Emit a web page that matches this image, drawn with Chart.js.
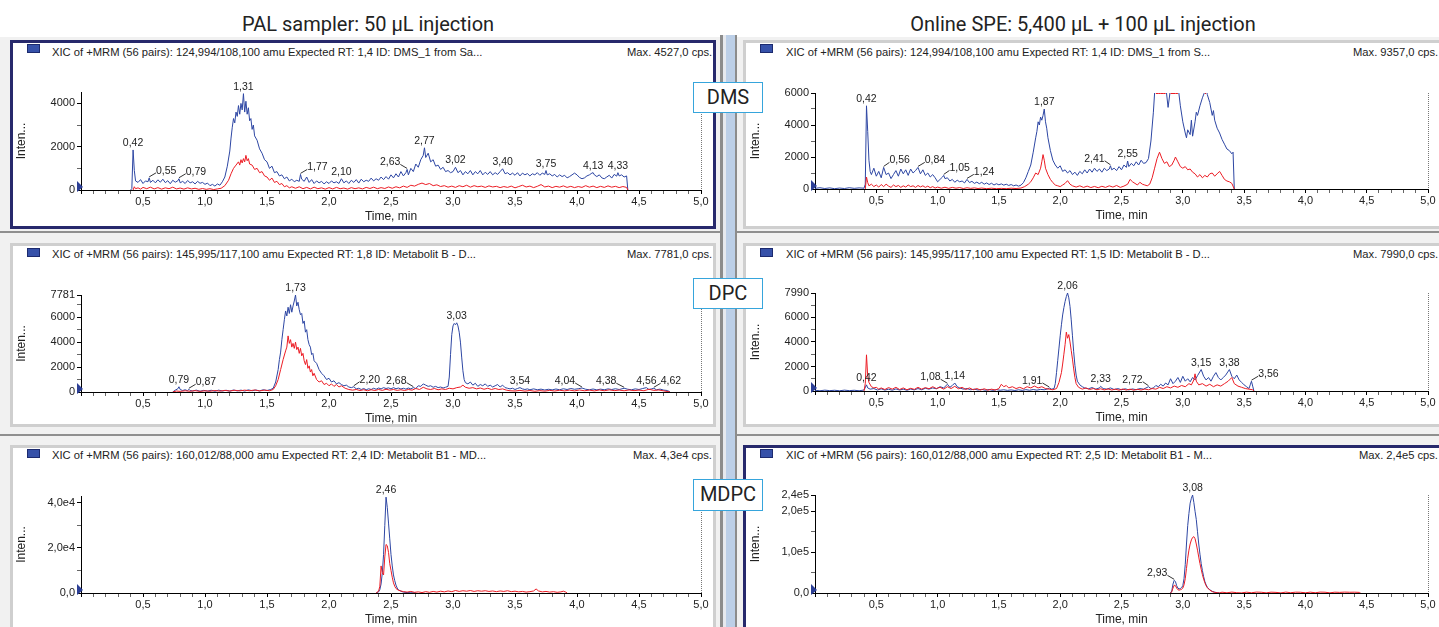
<!DOCTYPE html>
<html>
<head>
<meta charset="utf-8">
<title>XIC chromatograms</title>
<script src="https://cdn.jsdelivr.net/npm/chart.js@4.4.1/dist/chart.umd.min.js"></script>
<style>
  html, body { margin: 0; padding: 0; }
  body { width: 1439px; height: 627px; position: relative; overflow: hidden; background: #fff;
         font-family: "Liberation Sans", Arial, sans-serif; }
  .backdrop { position: absolute; left: 0; top: 37px; width: 1439px; height: 590px; background: #f1f1f1; }
  .title { position: absolute; top: 12px; font-family: Roboto, sans-serif; font-size: 20px; line-height: 24px;
           color: #222; white-space: nowrap; transform: translateX(-50%); }
  .panel { position: absolute; box-sizing: border-box; background: #fff; border: 3px solid #cfcfcf; }
  .panel.sel { border-color: #27296c; }
  .hsep { position: absolute; left: 0; width: 1439px; height: 2px; background: #8f8f8f; }
  .vsep { position: absolute; top: 35px; height: 600px; }
  .icon { position: absolute; width: 13px; height: 9px; box-sizing: border-box; background: #3651a9; border: 1px solid #1c2a6e; }
  .hdr { position: absolute; font-size: 11.2px; line-height: 12px; color: #222; white-space: nowrap; }
  .tag { position: absolute; left: 693px; width: 70px; box-sizing: border-box; border: 1.5px solid #36a5dc; background: #fff;
         font-family: Roboto, sans-serif; font-size: 20px; color: #222; text-align: center; }
  canvas { position: absolute; }
</style>
</head>
<body>
<div class="backdrop"></div>
<div class="hsep" style="top:231px"></div>
<div class="hsep" style="top:434px"></div>
<div class="vsep" style="left:720px; width:3px; background:#8c8c8c"></div>
<div class="vsep" style="left:723px; width:3px; background:#e6e9ee"></div>
<div class="vsep" style="left:726px; width:9px; background:#bccfe7"></div>
<div class="vsep" style="left:735px; width:2px; background:#8c8c8c"></div>
<div class="title" style="left:368px">PAL sampler: 50 µL injection</div>
<div class="title" style="left:1083px">Online SPE: 5,400 µL + 100 µL injection</div>

<script>
// ---- data: [time (min), intensity (cps)] ----

// DMS, PAL sampler
const dmsPalBlue = [
  [0.40,0],[0.41,60],[0.42,1850],[0.43,900],[0.44,420],[0.46,350],[0.48,480],[0.50,300],[0.52,420],[0.54,380],
  [0.55,560],[0.56,350],[0.58,450],[0.60,330],[0.62,470],[0.64,360],[0.66,500],[0.68,340],[0.70,430],[0.72,290],
  [0.74,450],[0.76,360],[0.78,420],[0.79,520],[0.80,330],[0.82,400],[0.84,300],[0.86,440],[0.88,330],[0.90,380],
  [0.92,280],[0.94,400],[0.96,310],[0.98,350],[1.00,260],[1.02,320],[1.04,200],[1.06,260],[1.08,180],[1.10,280],
  [1.12,220],[1.14,380],[1.16,600],[1.18,1100],[1.20,1800],[1.21,2400],[1.22,2900],[1.23,3300],[1.24,3100],[1.25,3600],
  [1.26,3400],[1.27,3900],[1.28,3500],[1.29,4000],[1.30,3700],[1.31,4450],[1.32,3600],[1.33,4100],[1.34,3500],[1.35,3800],
  [1.36,3200],[1.37,3300],[1.38,2800],[1.39,3000],[1.40,2500],[1.42,2300],[1.44,1900],[1.46,1700],[1.48,1400],[1.50,1300],
  [1.52,1000],[1.54,1100],[1.56,800],[1.58,850],[1.60,650],[1.62,700],[1.64,520],[1.66,600],[1.68,420],[1.70,500],
  [1.72,380],[1.74,450],[1.76,400],[1.77,720],[1.78,500],[1.80,400],[1.82,600],[1.84,350],[1.86,480],[1.88,300],
  [1.90,420],[1.92,330],[1.94,400],[1.96,280],[1.98,380],[2.00,300],[2.02,420],[2.04,330],[2.06,380],[2.08,300],
  [2.10,520],[2.12,330],[2.14,420],[2.16,300],[2.18,450],[2.20,350],[2.22,480],[2.24,320],[2.26,500],[2.28,380],
  [2.30,450],[2.32,400],[2.34,550],[2.36,420],[2.38,520],[2.40,450],[2.42,600],[2.44,480],[2.46,620],[2.48,500],
  [2.50,700],[2.52,560],[2.54,750],[2.56,600],[2.58,850],[2.60,650],[2.62,800],[2.63,950],[2.64,700],[2.66,1000],
  [2.68,850],[2.70,1200],[2.72,1050],[2.74,1400],[2.76,1600],[2.77,1950],[2.78,1500],[2.80,1700],[2.82,1300],[2.84,1400],
  [2.86,1100],[2.88,1150],[2.90,950],[2.92,1050],[2.94,850],[2.96,900],[2.98,800],[3.00,850],[3.02,1050],[3.04,800],
  [3.06,900],[3.08,700],[3.10,850],[3.12,750],[3.14,900],[3.16,700],[3.18,850],[3.20,750],[3.22,900],[3.24,700],
  [3.26,820],[3.28,720],[3.30,850],[3.32,700],[3.34,800],[3.36,720],[3.38,850],[3.40,980],[3.42,750],[3.44,800],
  [3.46,700],[3.48,780],[3.50,680],[3.52,800],[3.54,650],[3.56,780],[3.58,700],[3.60,760],[3.62,650],[3.64,750],
  [3.66,700],[3.68,800],[3.70,680],[3.72,780],[3.74,720],[3.75,900],[3.76,700],[3.78,750],[3.80,650],[3.82,720],
  [3.84,600],[3.86,700],[3.88,620],[3.90,680],[3.92,560],[3.94,620],[3.96,700],[3.98,780],[4.00,700],[4.02,580],
  [4.04,520],[4.06,560],[4.08,650],[4.10,700],[4.12,780],[4.13,800],[4.14,700],[4.16,620],[4.18,700],[4.20,560],
  [4.22,520],[4.24,600],[4.26,680],[4.28,550],[4.30,720],[4.32,640],[4.33,800],[4.34,650],[4.36,700],[4.38,600],
  [4.40,650],[4.41,0]
];
const dmsPalRed = [
  [0.42,0],[0.43,150],[0.44,60],[0.46,100],[0.48,40],[0.50,120],[0.53,60],[0.56,130],[0.59,50],[0.62,110],
  [0.65,40],[0.68,100],[0.71,60],[0.74,130],[0.77,50],[0.80,90],[0.83,40],[0.86,100],[0.89,50],[0.92,80],
  [0.95,30],[0.98,70],[1.01,30],[1.04,60],[1.07,20],[1.10,50],[1.13,80],[1.16,200],[1.19,450],[1.21,750],
  [1.23,1000],[1.25,1150],[1.27,1300],[1.28,1150],[1.29,1400],[1.30,1250],[1.31,1450],[1.32,1300],[1.33,1600],[1.34,1350],
  [1.35,1450],[1.36,1200],[1.38,1150],[1.40,950],[1.42,1000],[1.44,800],[1.46,850],[1.48,650],[1.50,600],[1.52,450],
  [1.54,550],[1.56,350],[1.58,400],[1.60,250],[1.62,300],[1.64,150],[1.66,200],[1.68,100],[1.70,150],[1.73,80],
  [1.76,150],[1.79,60],[1.82,120],[1.85,50],[1.88,130],[1.91,60],[1.94,100],[1.97,40],[2.00,110],[2.03,50],
  [2.06,120],[2.09,60],[2.12,90],[2.15,40],[2.18,110],[2.21,60],[2.24,100],[2.27,50],[2.30,120],[2.33,70],
  [2.36,130],[2.39,60],[2.42,110],[2.45,70],[2.48,140],[2.51,80],[2.54,150],[2.57,100],[2.60,180],[2.63,120],
  [2.66,220],[2.69,180],[2.72,260],[2.75,320],[2.78,250],[2.81,300],[2.84,200],[2.87,240],[2.90,160],[2.93,200],
  [2.96,130],[2.99,180],[3.02,120],[3.05,200],[3.08,150],[3.11,220],[3.14,130],[3.17,200],[3.20,150],[3.23,180],
  [3.26,120],[3.29,190],[3.32,140],[3.35,170],[3.38,110],[3.41,160],[3.44,120],[3.47,180],[3.50,100],[3.53,160],
  [3.56,220],[3.59,140],[3.62,180],[3.65,110],[3.68,170],[3.71,250],[3.74,140],[3.77,180],[3.80,110],[3.83,170],
  [3.86,130],[3.89,190],[3.92,120],[3.95,170],[3.98,110],[4.01,160],[4.04,120],[4.07,200],[4.10,130],[4.13,180],
  [4.16,110],[4.19,170],[4.22,120],[4.25,190],[4.28,130],[4.31,170],[4.34,110],[4.37,160],[4.40,120],[4.41,0]
];
const dmsPalPeaks = [0.42, 0.55, 0.79, 1.31, 1.77, 2.10, 2.63, 2.77, 3.02, 3.40, 3.75, 4.13, 4.33];

// DMS, online SPE
const dmsSpeBlue = [
  [0.00,40],[0.04,80],[0.08,30],[0.12,70],[0.16,20],[0.20,60],[0.24,30],[0.28,80],[0.32,40],[0.36,70],
  [0.40,50],[0.41,300],[0.42,5200],[0.43,3600],[0.44,1800],[0.45,1100],[0.46,900],[0.48,1300],[0.50,800],[0.52,1100],
  [0.54,700],[0.56,1350],[0.58,900],[0.60,1000],[0.62,650],[0.64,900],[0.66,1150],[0.68,800],[0.70,1250],[0.72,950],
  [0.74,1200],[0.76,850],[0.78,1250],[0.80,1000],[0.82,1150],[0.84,1350],[0.86,950],[0.88,1200],[0.90,850],[0.92,1000],
  [0.94,750],[0.96,900],[0.98,700],[1.00,450],[1.02,600],[1.04,750],[1.05,850],[1.06,650],[1.08,700],[1.10,500],
  [1.12,600],[1.14,420],[1.16,550],[1.18,450],[1.20,500],[1.22,380],[1.24,600],[1.26,400],[1.28,480],[1.30,350],
  [1.32,430],[1.34,330],[1.36,420],[1.38,300],[1.40,380],[1.42,280],[1.44,360],[1.46,250],[1.48,330],[1.50,260],
  [1.52,320],[1.54,240],[1.56,300],[1.58,220],[1.60,280],[1.62,200],[1.64,250],[1.66,180],[1.68,240],[1.70,400],
  [1.72,700],[1.74,1100],[1.76,1500],[1.78,2300],[1.80,3200],[1.81,3600],[1.82,4200],[1.83,4000],[1.84,4500],[1.85,4300],
  [1.86,4600],[1.87,5000],[1.88,4200],[1.89,3800],[1.90,3200],[1.92,2400],[1.94,1800],[1.96,1500],[1.98,1300],[2.00,1450],
  [2.02,1100],[2.04,1200],[2.06,1000],[2.08,1150],[2.10,900],[2.12,1050],[2.14,850],[2.16,1100],[2.18,950],[2.20,1200],
  [2.22,1000],[2.24,1250],[2.26,1050],[2.28,1300],[2.30,1100],[2.32,1250],[2.34,1050],[2.36,1300],[2.38,1150],[2.40,1250],
  [2.41,1450],[2.42,1200],[2.44,1300],[2.46,1150],[2.48,1400],[2.50,1200],[2.52,1500],[2.54,1350],[2.55,1750],[2.56,1400],
  [2.58,1600],[2.60,1450],[2.62,1700],[2.64,1500],[2.66,1800],[2.68,1600],[2.70,1650],[2.72,1900],[2.74,3000],[2.76,4800],
  [2.77,6000],[2.78,6800],[2.80,7500],[2.82,9357],[2.84,7500],[2.86,6500],[2.88,5100],[2.90,6300],[2.92,7200],[2.94,7000],
  [2.96,6500],[2.98,5200],[3.00,4200],[3.02,3500],[3.03,3200],[3.04,3700],[3.06,3400],[3.07,4300],[3.08,3300],[3.10,4200],
  [3.11,4800],[3.12,4600],[3.14,5200],[3.16,5700],[3.18,6100],[3.19,6300],[3.20,5900],[3.22,5400],[3.24,4600],[3.25,4900],
  [3.26,4300],[3.28,3800],[3.30,3500],[3.32,3100],[3.34,2800],[3.36,2500],[3.38,2400],[3.40,2200],[3.41,2300],[3.42,0]
];
const dmsSpeRed = [
  [0.41,0],[0.42,750],[0.43,400],[0.44,200],[0.46,300],[0.48,150],[0.50,250],[0.52,120],[0.54,280],[0.56,150],
  [0.58,300],[0.60,180],[0.62,100],[0.64,250],[0.66,150],[0.68,220],[0.70,100],[0.72,200],[0.74,120],[0.76,250],
  [0.78,150],[0.80,200],[0.82,100],[0.84,220],[0.86,130],[0.88,200],[0.90,100],[0.92,180],[0.94,80],[0.96,150],
  [0.98,60],[1.00,120],[1.03,50],[1.06,110],[1.09,40],[1.12,100],[1.15,50],[1.18,90],[1.21,30],[1.24,80],
  [1.27,40],[1.30,70],[1.33,30],[1.36,60],[1.40,20],[1.44,50],[1.48,20],[1.52,40],[1.56,20],[1.60,50],
  [1.64,30],[1.68,60],[1.71,150],[1.74,300],[1.76,450],[1.78,700],[1.80,1000],[1.82,900],[1.84,1300],[1.85,1700],
  [1.86,2150],[1.87,1800],[1.88,1300],[1.90,900],[1.92,600],[1.94,400],[1.96,250],[1.98,200],[2.00,150],[2.02,250],
  [2.04,350],[2.06,520],[2.08,300],[2.10,200],[2.13,120],[2.16,200],[2.19,100],[2.22,180],[2.25,90],[2.28,160],
  [2.31,80],[2.34,170],[2.37,100],[2.40,200],[2.43,120],[2.46,220],[2.49,100],[2.52,180],[2.55,300],[2.57,600],
  [2.59,450],[2.61,350],[2.63,250],[2.65,420],[2.67,300],[2.69,250],[2.71,200],[2.73,300],[2.75,700],[2.77,1300],
  [2.79,1900],[2.81,2300],[2.83,1900],[2.85,1600],[2.87,1700],[2.89,1400],[2.91,1500],[2.93,1800],[2.94,2000],[2.96,1700],
  [2.98,1400],[3.00,1300],[3.02,1400],[3.04,1200],[3.06,1250],[3.08,1050],[3.10,950],[3.12,750],[3.14,900],[3.16,700],
  [3.18,850],[3.20,750],[3.22,950],[3.24,1000],[3.26,800],[3.28,950],[3.30,1100],[3.32,850],[3.34,600],[3.36,500],
  [3.38,450],[3.40,350],[3.42,0]
];
const dmsSpePeaks = [0.42, 0.56, 0.84, 1.05, 1.24, 1.87, 2.41, 2.55];

// DPC, PAL sampler
const dpcPalBlue = [
  [0.74,0],[0.76,150],[0.78,250],[0.79,420],[0.80,200],[0.82,120],[0.84,180],[0.86,100],[0.87,220],[0.88,120],
  [0.90,80],[0.93,150],[0.96,60],[0.99,130],[1.02,70],[1.05,140],[1.08,60],[1.11,150],[1.14,80],[1.17,140],
  [1.20,70],[1.23,160],[1.26,90],[1.29,150],[1.32,80],[1.35,170],[1.38,100],[1.41,160],[1.44,90],[1.47,180],
  [1.50,120],[1.53,200],[1.55,300],[1.57,800],[1.59,1800],[1.60,2600],[1.61,3200],[1.62,4200],[1.63,5000],[1.64,5800],
  [1.65,6500],[1.66,6100],[1.67,6800],[1.68,6300],[1.69,7000],[1.70,6400],[1.71,6900],[1.72,7300],[1.73,7781],[1.74,6900],
  [1.75,7200],[1.76,6600],[1.77,6200],[1.78,6300],[1.79,5500],[1.80,5700],[1.81,4800],[1.82,5000],[1.83,4200],[1.84,3800],
  [1.85,3600],[1.86,3000],[1.87,3100],[1.88,2500],[1.90,2300],[1.92,1800],[1.94,1500],[1.96,1300],[1.98,1000],[2.00,1100],
  [2.02,800],[2.04,900],[2.06,650],[2.08,750],[2.10,600],[2.12,500],[2.14,550],[2.16,400],[2.18,350],[2.20,420],
  [2.22,250],[2.24,300],[2.26,200],[2.28,280],[2.30,180],[2.32,260],[2.34,200],[2.36,300],[2.38,220],[2.40,320],
  [2.42,250],[2.44,350],[2.46,280],[2.48,330],[2.50,250],[2.52,350],[2.54,260],[2.56,320],[2.58,240],[2.60,300],
  [2.62,230],[2.64,320],[2.66,250],[2.68,350],[2.70,280],[2.72,500],[2.74,450],[2.76,650],[2.78,550],[2.80,450],
  [2.82,500],[2.84,380],[2.86,450],[2.88,350],[2.90,400],[2.92,320],[2.94,380],[2.96,450],[2.97,1200],[2.98,3000],
  [2.99,4600],[3.00,5300],[3.01,5500],[3.02,5400],[3.03,5550],[3.04,5300],[3.05,4800],[3.06,4000],[3.07,2800],[3.08,1700],
  [3.09,1000],[3.10,750],[3.12,650],[3.14,800],[3.16,550],[3.18,700],[3.20,450],[3.22,600],[3.24,500],[3.26,650],
  [3.28,450],[3.30,550],[3.32,400],[3.34,500],[3.36,600],[3.38,400],[3.40,550],[3.42,350],[3.44,300],[3.46,250],
  [3.48,300],[3.50,200],[3.52,280],[3.54,350],[3.56,250],[3.58,200],[3.60,250],[3.62,180],[3.65,250],[3.68,180],
  [3.71,230],[3.74,160],[3.77,220],[3.80,170],[3.83,240],[3.86,180],[3.89,260],[3.92,200],[3.95,280],[3.98,220],
  [4.01,260],[4.04,320],[4.07,220],[4.10,180],[4.13,240],[4.16,170],[4.19,230],[4.22,180],[4.25,250],[4.28,200],
  [4.31,260],[4.34,200],[4.38,300],[4.41,220],[4.44,180],[4.47,250],[4.50,200],[4.53,280],[4.56,350],[4.58,200],
  [4.60,250],[4.62,300],[4.64,180],[4.67,230],[4.70,150],[4.73,120],[4.75,0]
];
const dpcPalRed = [
  [0.74,0],[0.77,80],[0.80,50],[0.84,100],[0.88,60],[0.92,110],[0.96,50],[1.00,100],[1.04,60],[1.08,120],
  [1.12,70],[1.16,130],[1.20,80],[1.24,140],[1.28,90],[1.32,150],[1.36,100],[1.40,160],[1.44,90],[1.48,150],
  [1.52,100],[1.55,200],[1.57,500],[1.59,1000],[1.61,1800],[1.63,2600],[1.65,3300],[1.66,3600],[1.67,4500],[1.68,3900],
  [1.69,4200],[1.70,3600],[1.71,3900],[1.72,3500],[1.73,4000],[1.74,3400],[1.75,3600],[1.76,3100],[1.77,3500],[1.78,2900],
  [1.79,3100],[1.80,2500],[1.81,2200],[1.82,2600],[1.83,1900],[1.84,2100],[1.85,1600],[1.86,1800],[1.87,1300],[1.88,1500],
  [1.90,1000],[1.92,800],[1.94,900],[1.96,600],[1.98,700],[2.00,500],[2.02,650],[2.04,450],[2.06,600],[2.08,400],
  [2.10,500],[2.13,300],[2.16,200],[2.19,150],[2.22,200],[2.25,120],[2.28,180],[2.31,100],[2.34,180],[2.37,120],
  [2.40,200],[2.43,130],[2.46,220],[2.49,150],[2.52,200],[2.55,130],[2.58,180],[2.61,120],[2.64,200],[2.67,150],
  [2.70,280],[2.73,200],[2.76,380],[2.79,250],[2.82,200],[2.85,280],[2.88,180],[2.91,250],[2.94,200],[2.97,300],
  [3.00,250],[3.03,350],[3.06,400],[3.08,550],[3.10,380],[3.13,300],[3.16,350],[3.19,250],[3.22,320],[3.25,220],
  [3.28,300],[3.31,200],[3.34,280],[3.37,200],[3.40,250],[3.43,150],[3.46,100],[3.50,80],[3.54,130],[3.58,70],
  [3.62,120],[3.66,60],[3.70,110],[3.74,70],[3.78,130],[3.82,80],[3.86,140],[3.90,90],[3.94,150],[3.98,90],
  [4.02,160],[4.06,100],[4.10,150],[4.14,90],[4.18,160],[4.22,100],[4.26,170],[4.30,110],[4.34,150],[4.38,100],
  [4.42,160],[4.46,110],[4.50,150],[4.54,100],[4.58,220],[4.62,130],[4.66,160],[4.70,90],[4.75,0]
];
const dpcPalPeaks = [0.79, 0.87, 1.73, 2.20, 2.68, 3.03, 3.54, 4.04, 4.38, 4.56, 4.62];

// DPC, online SPE
const dpcSpeBlue = [
  [0.00,60],[0.04,20],[0.08,70],[0.12,30],[0.16,60],[0.20,20],[0.24,70],[0.28,30],[0.32,60],[0.36,20],
  [0.40,80],[0.42,500],[0.43,250],[0.45,150],[0.48,200],[0.51,80],[0.54,180],[0.57,70],[0.60,150],[0.63,60],
  [0.66,170],[0.69,80],[0.72,150],[0.75,60],[0.78,160],[0.81,90],[0.84,200],[0.87,100],[0.90,220],[0.93,150],
  [0.96,250],[0.99,180],[1.02,350],[1.05,250],[1.08,550],[1.10,300],[1.12,450],[1.14,650],[1.16,350],[1.18,250],
  [1.21,150],[1.24,200],[1.27,100],[1.30,150],[1.33,80],[1.36,130],[1.39,60],[1.42,120],[1.45,50],[1.48,110],
  [1.51,60],[1.54,100],[1.57,50],[1.60,90],[1.63,40],[1.66,100],[1.69,50],[1.72,110],[1.75,60],[1.78,120],
  [1.81,70],[1.84,130],[1.87,100],[1.90,180],[1.91,250],[1.93,150],[1.95,200],[1.96,600],[1.97,1500],[1.98,2500],
  [1.99,3500],[2.00,4500],[2.01,5400],[2.02,6200],[2.03,6800],[2.04,7300],[2.05,7700],[2.06,7990],[2.07,7600],[2.08,6900],
  [2.09,5800],[2.10,4500],[2.11,3200],[2.12,2100],[2.13,1300],[2.14,800],[2.16,500],[2.18,350],[2.20,250],[2.23,180],
  [2.26,280],[2.29,150],[2.32,250],[2.33,380],[2.35,200],[2.38,150],[2.41,250],[2.44,120],[2.47,200],[2.50,100],
  [2.53,180],[2.56,90],[2.59,170],[2.62,100],[2.65,200],[2.68,150],[2.70,250],[2.72,350],[2.74,200],[2.76,250],
  [2.78,450],[2.80,350],[2.82,550],[2.84,400],[2.86,650],[2.88,500],[2.90,1000],[2.92,600],[2.94,800],[2.96,1100],
  [2.98,700],[3.00,1200],[3.02,800],[3.04,1000],[3.06,750],[3.08,1100],[3.10,900],[3.12,1250],[3.15,1750],[3.17,1200],
  [3.19,900],[3.21,1100],[3.23,800],[3.25,1200],[3.27,1500],[3.29,1100],[3.31,900],[3.33,1100],[3.35,1300],[3.38,1750],
  [3.40,1200],[3.42,1000],[3.44,1300],[3.46,900],[3.48,700],[3.50,500],[3.52,350],[3.54,200],[3.55,500],[3.56,800],
  [3.57,400],[3.58,0]
];
const dpcSpeRed = [
  [0.40,0],[0.41,600],[0.42,2950],[0.43,1200],[0.44,700],[0.46,350],[0.48,250],[0.50,300],[0.52,150],[0.54,250],
  [0.57,120],[0.60,280],[0.63,150],[0.66,300],[0.69,120],[0.72,250],[0.75,100],[0.78,220],[0.81,130],[0.84,300],
  [0.87,150],[0.90,280],[0.93,180],[0.96,350],[0.99,200],[1.02,300],[1.05,150],[1.08,350],[1.11,200],[1.14,380],
  [1.17,180],[1.20,300],[1.23,120],[1.26,250],[1.29,100],[1.32,200],[1.35,80],[1.38,180],[1.41,70],[1.44,150],
  [1.47,80],[1.50,200],[1.52,550],[1.54,350],[1.56,450],[1.58,250],[1.61,350],[1.64,200],[1.67,300],[1.70,180],
  [1.73,350],[1.76,250],[1.79,400],[1.82,250],[1.85,350],[1.88,200],[1.91,150],[1.94,100],[1.97,200],[1.99,700],
  [2.01,1500],[2.02,2200],[2.03,3000],[2.04,3800],[2.05,4800],[2.06,4300],[2.07,4600],[2.08,4000],[2.09,3300],[2.10,2600],
  [2.11,1800],[2.12,1100],[2.13,600],[2.15,300],[2.18,150],[2.21,250],[2.24,120],[2.27,200],[2.30,100],[2.33,180],
  [2.36,90],[2.39,170],[2.42,80],[2.45,150],[2.48,70],[2.51,160],[2.54,80],[2.57,150],[2.60,70],[2.63,140],
  [2.66,80],[2.69,160],[2.72,100],[2.75,200],[2.78,150],[2.81,300],[2.84,200],[2.87,350],[2.90,250],[2.93,400],
  [2.96,300],[2.99,450],[3.02,350],[3.05,600],[3.07,500],[3.09,900],[3.10,1400],[3.11,800],[3.13,500],[3.16,600],
  [3.19,400],[3.22,550],[3.25,350],[3.28,500],[3.31,400],[3.34,600],[3.37,800],[3.40,1100],[3.42,600],[3.45,400],
  [3.48,300],[3.51,200],[3.54,150],[3.57,100],[3.58,0]
];
const dpcSpePeaks = [0.42, 1.08, 1.14, 1.91, 2.06, 2.33, 2.72, 3.15, 3.38, 3.56];

// MDPC, PAL sampler
const mdpcPalBlue = [
  [2.38,0],[2.40,500],[2.41,1500],[2.42,4000],[2.43,9000],[2.44,17000],[2.45,30000],[2.46,42500],[2.47,38000],[2.48,31000],
  [2.49,24000],[2.50,17000],[2.51,12000],[2.52,8000],[2.53,5500],[2.54,3500],[2.55,2200],[2.56,1400],[2.58,800],[2.60,400],
  [2.63,200],[2.66,100],[2.70,0]
];
const mdpcPalRed = [
  [2.38,0],[2.40,800],[2.41,3000],[2.42,12000],[2.43,9000],[2.44,8000],[2.45,16000],[2.46,21500],[2.47,21000],[2.48,18000],
  [2.49,13000],[2.50,10000],[2.51,7000],[2.52,4500],[2.53,3000],[2.54,2000],[2.56,1200],[2.58,900],[2.60,600],[2.63,400],
  [2.66,700],[2.69,300],[2.72,500],[2.75,200],[2.78,600],[2.81,300],[2.84,700],[2.87,400],[2.90,800],[2.93,500],
  [2.96,900],[2.99,600],[3.02,1100],[3.05,700],[3.08,1000],[3.11,800],[3.14,1100],[3.17,700],[3.20,1000],[3.23,800],
  [3.26,1000],[3.29,700],[3.32,900],[3.35,600],[3.38,900],[3.41,700],[3.44,1000],[3.47,600],[3.50,800],[3.53,500],
  [3.56,700],[3.59,400],[3.62,600],[3.65,900],[3.67,1800],[3.69,900],[3.72,500],[3.75,700],[3.78,400],[3.81,600],
  [3.84,300],[3.87,500],[3.89,800],[3.91,400],[3.92,0]
];
const mdpcPalPeaks = [2.46];

// MDPC, online SPE
const mdpcSpeBlue = [
  [2.90,0],[2.91,5000],[2.92,22000],[2.93,31000],[2.94,28000],[2.95,18000],[2.96,12000],[2.97,10000],[2.98,11000],[2.99,13000],
  [3.00,18000],[3.01,35000],[3.02,70000],[3.03,120000],[3.04,165000],[3.05,195000],[3.06,220000],[3.07,232000],[3.08,240000],[3.09,222000],
  [3.10,200000],[3.11,180000],[3.12,150000],[3.13,120000],[3.14,95000],[3.15,72000],[3.16,55000],[3.17,40000],[3.18,28000],[3.19,20000],
  [3.20,14000],[3.22,8000],[3.24,4000],[3.26,2000],[3.28,800],[3.30,0]
];
const mdpcSpeRed = [
  [2.90,0],[2.91,3000],[2.92,12000],[2.93,19000],[2.94,18000],[2.95,12000],[2.96,8000],[2.97,7000],[2.98,8000],[2.99,9000],
  [3.00,12000],[3.01,20000],[3.02,35000],[3.03,60000],[3.04,85000],[3.05,105000],[3.06,120000],[3.07,130000],[3.08,136000],[3.09,138000],
  [3.10,133000],[3.11,120000],[3.12,105000],[3.13,88000],[3.14,72000],[3.15,58000],[3.16,45000],[3.17,34000],[3.18,25000],[3.19,18000],
  [3.20,13000],[3.22,7000],[3.24,3500],[3.26,1500],[3.28,600],[3.30,300],[3.32,2000],[3.36,500],[3.40,2200],[3.44,800],
  [3.48,300],[3.52,2000],[3.56,600],[3.60,2200],[3.64,1800],[3.68,400],[3.72,2000],[3.76,1500],[3.80,300],[3.84,2200],
  [3.88,700],[3.92,2000],[3.96,1800],[4.00,500],[4.04,2100],[4.08,600],[4.12,2200],[4.16,1900],[4.20,400],[4.24,2000],
  [4.28,1500],[4.32,2200],[4.36,1800],[4.40,2000],[4.44,1500],[4.45,0]
];
const mdpcSpePeaks = [2.93, 3.08];

// axis tick labels
const xTickLabels = ['0,5', '1,0', '1,5', '2,0', '2,5', '3,0', '3,5', '4,0', '4,5', '5,0'];
const dmsPalYTicks = [0, 2000, 4000];
const dmsSpeYTicks = [0, 2000, 4000, 6000];
const dpcPalYTicks = [0, 2000, 4000, 6000, 7781];
const dpcSpeYTicks = [0, 2000, 4000, 6000, 7990];
const mdpcPalYTicks = [0, 20000, 40000];
const mdpcPalYLabels = ['0,0', '2,0e4', '4,0e4'];
const mdpcSpeYTicks = [0, 100000, 200000, 240000];
const mdpcSpeYLabels = ['0,0', '1,0e5', '2,0e5', '2,4e5'];

// panel header texts
const headers = [
  'XIC of +MRM (56 pairs): 124,994/108,100 amu Expected RT: 1,4 ID: DMS_1 from Sa...',
  'XIC of +MRM (56 pairs): 124,994/108,100 amu Expected RT: 1,4 ID: DMS_1 from S...',
  'XIC of +MRM (56 pairs): 145,995/117,100 amu Expected RT: 1,8 ID: Metabolit B - D...',
  'XIC of +MRM (56 pairs): 145,995/117,100 amu Expected RT: 1,5 ID: Metabolit B - D...',
  'XIC of +MRM (56 pairs): 160,012/88,000 amu Expected RT: 2,4 ID: Metabolit B1 - MD...',
  'XIC of +MRM (56 pairs): 160,012/88,000 amu Expected RT: 2,5 ID: Metabolit B1 - M...'
];
const maxTexts = ['Max. 4527,0 cps.', 'Max. 9357,0 cps.', 'Max. 7781,0 cps.', 'Max. 7990,0 cps.', 'Max. 4,3e4 cps.', 'Max. 2,4e5 cps.'];
const compounds = ['DMS', 'DPC', 'MDPC'];

// ---- layout ----
const FONT = '"Liberation Sans", Arial, sans-serif';
const BLUE = '#2d46a3';
const RED = '#ec1c24';
const INK = '#222';

const cols = [
  { panelLeft: 10, panelWidth: 706, plotLeft: 81, plotRight: 701, iconX: 27, textX: 52, maxRight: 712 },
  { panelLeft: 743, panelWidth: 710, plotLeft: 815, plotRight: 1428, iconX: 760, textX: 786, maxRight: 1438 }
];
const rows = [
  { panelTop: 40, panelHeight: 189, iconY: 44, baseline: 56, tagTop: 82 },
  { panelTop: 243, panelHeight: 184, iconY: 248, baseline: 258, tagTop: 278 },
  { panelTop: 445, panelHeight: 200, iconY: 449, baseline: 459, tagTop: 479 }
];

const panels = [
  { col: 0, row: 0, sel: true, blue: dmsPalBlue, red: dmsPalRed, peaks: dmsPalPeaks,
    shift: [0, 17, 17, 0, 17, 0, -17, 0, 0, 0, 0, 0, 0],
    top: 4527, minor: 1000, yTicks: dmsPalYTicks, plotTop: 92, plotBottom: 190 },
  { col: 1, row: 0, blue: dmsSpeBlue, red: dmsSpeRed, peaks: dmsSpePeaks,
    shift: [0, 16, 17, 16, 17, 0, -16, 0],
    top: 6000, minor: 1000, yTicks: dmsSpeYTicks, plotTop: 93, plotBottom: 189 },
  { col: 0, row: 1, blue: dpcPalBlue, red: dpcPalRed, peaks: dpcPalPeaks,
    shift: [0, 17, 0, 16, -17, 0, 0, -17, -18, 0, 17],
    top: 7781, minor: 1000, yTicks: dpcPalYTicks, plotTop: 295, plotBottom: 392 },
  { col: 1, row: 1, blue: dpcSpeBlue, red: dpcSpeRed, peaks: dpcSpePeaks,
    shift: [0, -17, 0, -17, 0, 0, -16, 0, 0, 17],
    top: 7990, minor: 1000, yTicks: dpcSpeYTicks, plotTop: 293, plotBottom: 391 },
  { col: 0, row: 2, blue: mdpcPalBlue, red: mdpcPalRed, peaks: mdpcPalPeaks,
    shift: [0], top: 43000, minor: 10000, yTicks: mdpcPalYTicks, yLabels: mdpcPalYLabels,
    plotTop: 496, plotBottom: 593 },
  { col: 1, row: 2, sel: true, blue: mdpcSpeBlue, red: mdpcSpeRed, peaks: mdpcSpePeaks,
    shift: [-17, 0], top: 240000, minor: 50000, yTicks: mdpcSpeYTicks, yLabels: mdpcSpeYLabels,
    plotTop: 495, plotBottom: 593 }
];

function addDiv(cls, style, text) {
  const d = document.createElement('div');
  d.className = cls;
  Object.assign(d.style, style);
  if (text) d.textContent = text;
  document.body.appendChild(d);
  return d;
}

// value of a trace at a given retention time (exact sample, or nearest one)
function valueAt(trace, t) {
  let best = trace[0];
  for (const p of trace) {
    if (Math.abs(p[0] - t) < Math.abs(best[0] - t)) best = p;
  }
  return best[1];
}

// frame extras: saturation marks, dotted end-of-run line, zero marker, peak labels
const chromExtras = {
  id: 'chromExtras',
  afterDatasetsDraw(chart, args, opts) {
    const { ctx, chartArea: a, scales: { x, y } } = chart;
    const p = opts.panel;
    ctx.save();

    // signal above the axis range is flagged with a red dashed cap
    ctx.strokeStyle = RED;
    ctx.lineWidth = 1;
    ctx.setLineDash([3, 3]);
    for (let i = 1; i < p.blue.length; i++) {
      if (p.blue[i - 1][1] > p.top && p.blue[i][1] > p.top) {
        ctx.beginPath();
        ctx.moveTo(x.getPixelForValue(p.blue[i - 1][0]), a.top + 0.5);
        ctx.lineTo(x.getPixelForValue(p.blue[i][0]), a.top + 0.5);
        ctx.stroke();
      }
    }

    const xe = Math.round(x.getPixelForValue(5)) + 0.5;
    ctx.strokeStyle = '#777';
    ctx.setLineDash([1, 1]);
    ctx.beginPath();
    ctx.moveTo(xe, a.top);
    ctx.lineTo(xe, a.bottom);
    ctx.stroke();
    ctx.setLineDash([]);

    ctx.fillStyle = '#2c3f96';
    ctx.beginPath();
    ctx.moveTo(a.left - 4, a.bottom - 9);
    ctx.lineTo(a.left + 2, a.bottom - 3);
    ctx.lineTo(a.left - 4, a.bottom + 2);
    ctx.closePath();
    ctx.fill();

    ctx.font = '10.5px ' + FONT;
    ctx.fillStyle = INK;
    ctx.strokeStyle = '#333';
    ctx.textAlign = 'center';
    ctx.textBaseline = 'alphabetic';
    p.peaks.forEach((t, i) => {
      const v = Math.min(valueAt(p.blue, t), p.top);
      const px = x.getPixelForValue(t);
      const py = y.getPixelForValue(v);
      const dx = p.shift[i] || 0;
      const text = t.toFixed(2).replace('.', ',');
      ctx.fillText(text, px + dx, py - 4);
      if (dx !== 0) {
        const half = ctx.measureText(text).width / 2;
        const ex = dx > 0 ? px + dx - half : px + dx + half;
        ctx.beginPath();
        ctx.moveTo(px, py - 1);
        ctx.lineTo(ex, py - 5);
        ctx.stroke();
      }
    });
    ctx.restore();
  }
};

const xSteps = [];
for (let i = 0; i <= 50; i++) xSteps.push(i / 10);

panels.forEach((p, k) => {
  const c = cols[p.col], r = rows[p.row];

  addDiv('panel' + (p.sel ? ' sel' : ''), {
    left: c.panelLeft + 'px', top: r.panelTop + 'px', width: c.panelWidth + 'px', height: r.panelHeight + 'px'
  });
  addDiv('icon', { left: c.iconX + 'px', top: r.iconY + 'px' });
  addDiv('hdr', { left: c.textX + 'px', top: (r.baseline - 10) + 'px' }, headers[k]);
  const m = addDiv('hdr', { top: (r.baseline - 10) + 'px' }, maxTexts[k]);
  m.style.left = (c.maxRight - m.offsetWidth) + 'px';

  // canvas sized so that the plot area lands on the panel's axes
  const padL = 70, padT = 12, padR = 12, axisH = 36;
  const w = c.plotRight - c.plotLeft + padL + padR;
  const h = p.plotBottom - p.plotTop + padT + axisH;
  const cv = document.createElement('canvas');
  cv.width = w; cv.height = h;
  cv.style.width = w + 'px'; cv.style.height = h + 'px';
  cv.style.left = (c.plotLeft - padL) + 'px';
  cv.style.top = (p.plotTop - padT) + 'px';
  document.body.appendChild(cv);

  const ySteps = [];
  for (let v = 0; v <= p.top; v += p.minor) ySteps.push(v);
  p.yTicks.forEach(v => { if (!ySteps.includes(v)) ySteps.push(v); });
  ySteps.sort((a, b) => a - b);

  new Chart(cv.getContext('2d'), {
    type: 'line',
    data: {
      datasets: [
        { label: 'qualifier', data: p.red, borderColor: RED, borderWidth: 1, pointRadius: 0, tension: 0 },
        { label: 'quantifier', data: p.blue, borderColor: BLUE, borderWidth: 1, pointRadius: 0, tension: 0 }
      ]
    },
    options: {
      responsive: false,
      animation: false,
      events: [],
      layout: { padding: { left: 0, top: padT, right: padR, bottom: 0 } },
      plugins: { legend: { display: false }, tooltip: { enabled: false }, chromExtras: { panel: p } },
      scales: {
        x: {
          type: 'linear', min: 0, max: 5,
          afterBuildTicks: s => { s.ticks = xSteps.map(v => ({ value: v })); },
          afterFit: s => { s.height = axisH; },
          ticks: {
            autoSkip: false, maxRotation: 0, padding: 1, color: INK, font: { size: 11, family: FONT },
            callback: v => {
              const i = Math.round(v * 10);
              return (i > 0 && i % 5 === 0) ? xTickLabels[i / 5 - 1] : '';
            }
          },
          grid: {
            drawOnChartArea: false, tickLength: 4,
            tickColor: ctx => (Math.round(ctx.tick.value * 10) % 5 === 0 ? '#000' : '#666')
          },
          border: { color: '#000' },
          title: { display: true, text: 'Time, min', color: INK, font: { size: 12, family: FONT }, padding: { top: 0, bottom: 2 } }
        },
        y: {
          min: 0, max: p.top,
          afterBuildTicks: s => { s.ticks = ySteps.map(v => ({ value: v })); },
          afterFit: s => { s.width = padL; },
          ticks: {
            autoSkip: false, padding: 2, color: INK, font: { size: 11, family: FONT },
            callback: v => {
              const i = p.yTicks.indexOf(v);
              if (i < 0) return '';
              return p.yLabels ? p.yLabels[i] : String(v);
            }
          },
          grid: {
            drawOnChartArea: false, tickLength: 4,
            tickColor: ctx => (p.yTicks.includes(ctx.tick.value) ? '#000' : '#666')
          },
          border: { color: '#000' },
          title: { display: true, text: 'Inten...', color: INK, font: { size: 12, family: FONT }, padding: { top: 3, bottom: 0 } }
        }
      }
    },
    plugins: [chromExtras]
  });
});

compounds.forEach((name, r) => {
  addDiv('tag', { top: rows[r].tagTop + 'px', height: (r === 2 ? 32 : 31) + 'px', lineHeight: (r === 2 ? 29 : 28) + 'px' }, name);
});
</script>
</body>
</html>
